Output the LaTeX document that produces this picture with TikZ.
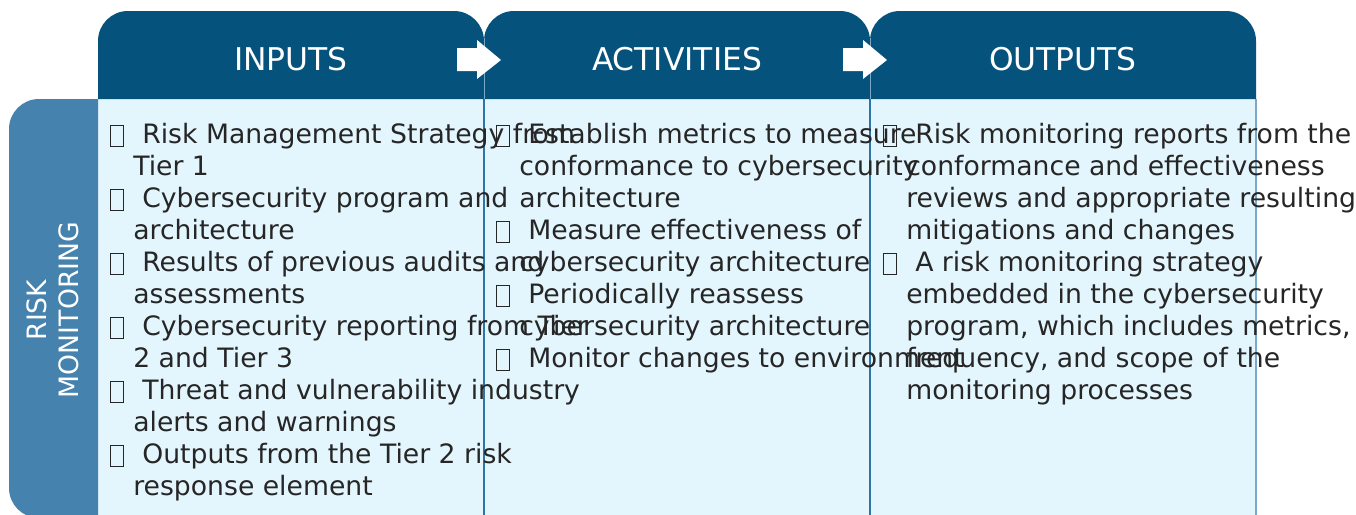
\documentclass[tikz,border=0pt]{standalone}
\usepackage{fontspec}
\setmainfont{DejaVu Sans}

\definecolor{hdrblue}{RGB}{5,82,124}
\definecolor{sideblue}{RGB}{70,130,174}
\definecolor{panelblue}{RGB}{228,246,253}
\definecolor{ruleblue}{RGB}{46,117,165}
\definecolor{edgeblue}{RGB}{122,169,200}
\definecolor{txtgray}{RGB}{38,38,38}

% box left where the bullet glyph is missing
\newcommand{\bul}{\makebox[0pt][l]{\hspace*{-17.25pt}\raisebox{-2.25pt}{\setlength\fboxsep{0pt}\setlength\fboxrule{0.6pt}\fbox{\rule{0pt}{15.6pt}\rule{9.3pt}{0pt}}}}\hspace*{6.75pt}}

\begin{document}
\begin{tikzpicture}[x=0.75pt,y=0.75pt,yscale=-1,xscale=1,
    hdrtext/.style={text=white,font=\fontsize{23.5}{28}\selectfont,inner sep=0pt},
    sidetext/.style={text=white,font=\fontsize{20}{24}\selectfont,inner sep=0pt,align=center,rotate=90},
    listtext/.style={text=txtgray,font=\fontsize{20}{24}\selectfont,inner sep=0pt,align=left,anchor=north west}]
        \useasboundingbox (0,0) rectangle (1356,514);

        %Shape: Rectangle [panels]
        \fill [panelblue] (98,99) rectangle (1256,520) ;
        %Straight Lines [column rules]
        \draw [ruleblue,line width=0.9] (484,99) -- (484,520) ;
        \draw [ruleblue,line width=0.9] (870,99) -- (870,520) ;
        \draw [edgeblue,line width=1.2] (1256,99) -- (1256,520) ;

        %Shape: Side bar
        \fill [sideblue] (98,99) -- (39,99) arc [start angle=270, end angle=180, radius=30] -- (9,488) arc [start angle=180, end angle=90, radius=30] -- (98,518) -- cycle ;

        %Shape: Header tabs
        \fill [hdrblue] (98,99) -- (98,41) arc [start angle=180, end angle=270, radius=30] -- (454,11) arc [start angle=270, end angle=360, radius=30] -- (484,99) -- cycle ;
        \fill [hdrblue] (484,99) -- (484,41) arc [start angle=180, end angle=270, radius=30] -- (840,11) arc [start angle=270, end angle=360, radius=30] -- (870,99) -- cycle ;
        \fill [hdrblue] (870,99) -- (870,41) arc [start angle=180, end angle=270, radius=30] -- (1226,11) arc [start angle=270, end angle=360, radius=30] -- (1256,99) -- cycle ;
        \draw [edgeblue,line width=0.6] (484,38) -- (484,99) ;
        \draw [edgeblue,line width=0.6] (870,38) -- (870,99) ;

        %Shape: Right Arrow
        \fill [white] (457,48) -- (477,48) -- (477,40) -- (501,60) -- (477,79) -- (477,71) -- (457,71) -- cycle ;
        %Shape: Right Arrow
        \fill [white] (843,48) -- (863,48) -- (863,40) -- (887,60) -- (863,79) -- (863,71) -- (843,71) -- cycle ;

        % Text Node
        \draw (291,59) node (inputs) [hdrtext] {INPUTS};
        % Text Node
        \draw (677,59) node (activities) [hdrtext] {ACTIVITIES};
        % Text Node
        \draw (1063,59) node (outputs) [hdrtext] {OUTPUTS};
        % Text Node
        \draw (53,310) node (riskmon) [sidetext] {RISK\\MONITORING};

        % Text Node
        \draw (133,120.6) node (inlist) [listtext] {\strut\bul Risk Management Strategy from\\
            Tier 1\\
            \bul Cybersecurity program and\\
            architecture\\
            \bul Results of previous audits and\\
            assessments\\
            \bul Cybersecurity reporting from Tier\\
            2 and Tier 3\\
            \bul Threat and vulnerability industry\\
            alerts and warnings\\
            \bul Outputs from the Tier 2 risk\\
            response element};
        % Text Node
        \draw (519,120.6) node (actlist) [listtext] {\strut\bul Establish metrics to measure\\
            conformance to cybersecurity\\
            architecture\\
            \bul Measure effectiveness of\\
            cybersecurity architecture\\
            \bul Periodically reassess\\
            cybersecurity architecture\\
            \bul Monitor changes to environment};
        % Text Node
        \draw (906,120.6) node (outlist) [listtext] {\strut\bul Risk monitoring reports from the\\
            conformance and effectiveness\\
            reviews and appropriate resulting\\
            mitigations and changes\\
            \bul A risk monitoring strategy\\
            embedded in the cybersecurity\\
            program, which includes metrics,\\
            frequency, and scope of the\\
            monitoring processes};

\end{tikzpicture}
\end{document}
